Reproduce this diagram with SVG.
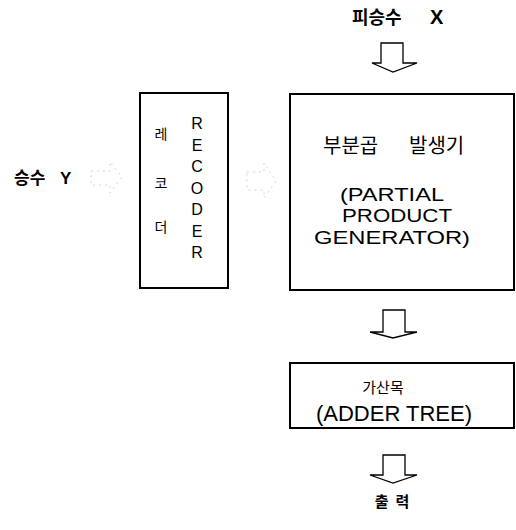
<svg xmlns="http://www.w3.org/2000/svg" width="516" height="530" viewBox="0 0 516 530">
  <style>
    .box { fill: #fff; stroke: #000; stroke-width: 2; }
    .flow { fill: #fff; stroke: #000; stroke-width: 1.3; stroke-linejoin: miter; }
    .faint { fill: none; stroke: #d4d4d4; stroke-width: 1; stroke-dasharray: 2 4; }
    .ko { font-family: "Noto Sans CJK KR", "Noto Sans", sans-serif; fill: #000; }
    .en { font-family: "Liberation Sans", Arial, sans-serif; fill: #000; }
  </style>
  <rect width="516" height="530" fill="#fff"/>

  <!-- input / output labels -->
  <g id="label-x">
    <text class="ko" x="352" y="24" font-size="18" font-weight="bold">피승수</text>
    <text class="en" x="430" y="24" font-size="20" font-weight="bold">X</text>
  </g>
  <g id="label-y">
    <text class="ko" x="14" y="184" font-size="17" font-weight="bold">승수</text>
    <text class="en" x="60" y="184" font-size="17" font-weight="bold">Y</text>
  </g>
  <g id="label-out">
    <text class="ko" x="392" y="507" font-size="15" font-weight="bold" text-anchor="middle" xml:space="preserve">출  력</text>
  </g>

  <!-- recoder -->
  <g id="recoder">
    <rect class="box" x="140" y="93" width="88" height="195" stroke-width="1.6"/>
    <g class="ko" font-size="14" text-anchor="middle">
      <text x="161" y="139">레</text>
      <text x="161" y="188">코</text>
      <text x="161" y="232">더</text>
    </g>
    <g class="en" font-size="16" text-anchor="middle">
      <text x="197" y="129">R</text>
      <text x="197" y="151">E</text>
      <text x="197" y="172">C</text>
      <text x="197" y="194">O</text>
      <text x="197" y="215">D</text>
      <text x="197" y="237">E</text>
      <text x="197" y="258">R</text>
    </g>
  </g>

  <!-- partial product generator -->
  <g id="ppg">
    <rect class="box" x="290" y="94" width="224" height="196"/>
    <text class="ko" y="153" font-size="20"><tspan x="323">부분곱</tspan><tspan x="409">발생기</tspan></text>
    <g class="en" font-size="19" text-anchor="middle">
      <text x="392" y="201" textLength="104" lengthAdjust="spacingAndGlyphs">(PARTIAL</text>
      <text x="397" y="222" textLength="110" lengthAdjust="spacingAndGlyphs">PRODUCT</text>
      <text x="392" y="244" textLength="156" lengthAdjust="spacingAndGlyphs">GENERATOR)</text>
    </g>
  </g>

  <!-- adder tree -->
  <g id="adder-tree">
    <rect class="box" x="290" y="363" width="224" height="65"/>
    <text class="ko" x="383" y="393" font-size="15" text-anchor="middle">가산목</text>
    <text class="en" x="394" y="421" font-size="22" text-anchor="middle">(ADDER TREE)</text>
  </g>

  <!-- connectors: hollow block arrows -->
  <g id="connectors">
    <path class="flow" d="M381,43 H403 V63 H417 L393,72 L372,63 H381 Z"/>
    <path class="flow" d="M383,310 H405 V332 H417 L393,338 L370,332 H383 Z"/>
    <path class="flow" d="M383,455 H405 V475 H417 L393,483 L370,475 H383 Z"/>
    <path class="faint" d="M91,171 H110 V162 L122,177 L110,193 V185 H91 Z"/>
    <path class="faint" d="M247,172 H264 V163 L276,181 L264,198 V190 H247 Z"/>
  </g>
</svg>
